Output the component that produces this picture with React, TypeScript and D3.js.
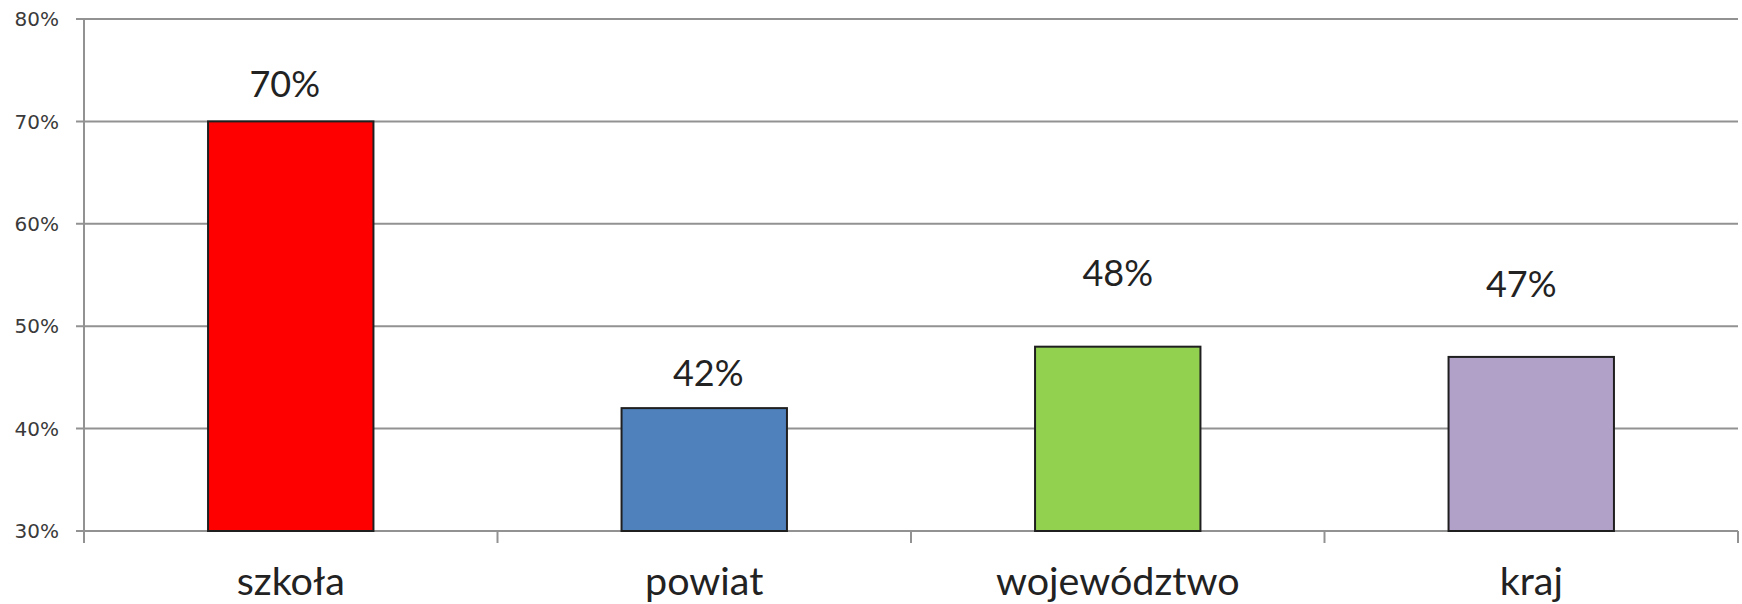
import React from "react";
import * as d3 from "d3";

const categories = ["szkoła", "powiat", "województwo", "kraj"];
const values = [70, 42, 48, 47];
const barColors = ["#FF0000", "#4F81BD", "#92D050", "#B1A0C7"];
const yTicks = [30, 40, 50, 60, 70, 80];
// label lift above bar top (px), as placed in the reference
const labelLift = [24, 22, 61, 60];
// small horizontal nudges of the value labels, as placed in the reference
const labelShift = [-6, 4, 0, -10];

const W = 1742;
const H = 604;
const M = { left: 84, right: 4, top: 19, bottom: 73 };

export default function App() {
  const x = d3
    .scaleBand<string>()
    .domain(categories)
    .range([M.left, W - M.right])
    .paddingInner(0.6)
    .paddingOuter(0.3);
  const y = d3.scaleLinear().domain([30, 80]).range([H - M.bottom, M.top]);
  const bounds = d3
    .scaleLinear()
    .domain([0, categories.length])
    .range([M.left, W - M.right]);
  const y0 = y(30);
  const gridColor = "#929292";

  return (
    <svg
      width={W}
      height={H}
      style={{ position: "absolute", left: 0, top: 0, background: "#fff" }}
    >
      {yTicks.map((t) => (
        <g key={t}>
          <line
            x1={M.left - 8}
            x2={W - M.right}
            y1={y(t)}
            y2={y(t)}
            stroke={gridColor}
            strokeWidth={2}
          />
          <text
            x={59}
            y={y(t)}
            dy="0.36em"
            textAnchor="end"
            fontFamily="DejaVu Sans, Verdana, sans-serif"
            fontSize={20}
            fill="#3a3a3a"
          >
            {t}%
          </text>
        </g>
      ))}
      <line x1={M.left} x2={M.left} y1={M.top} y2={y0 + 12} stroke={gridColor} strokeWidth={2} />
      {d3.range(categories.length + 1).map((i) => (
        <line
          key={i}
          x1={bounds(i)}
          x2={bounds(i)}
          y1={y0}
          y2={y0 + 12}
          stroke={gridColor}
          strokeWidth={2}
        />
      ))}
      {categories.map((c, i) => (
        <g key={c}>
          <rect
            x={x(c)}
            y={y(values[i])}
            width={x.bandwidth()}
            height={y0 - y(values[i])}
            fill={barColors[i]}
            stroke="#1f1f1f"
            strokeWidth={2}
          />
          <text
            x={(x(c) as number) + x.bandwidth() / 2 + labelShift[i]}
            y={y(values[i]) - labelLift[i]}
            textAnchor="middle"
            fontFamily="Lato, 'Open Sans', sans-serif"
            fontSize={36}
            fill="#222"
          >
            {values[i]}%
          </text>
          <text
            x={(x(c) as number) + x.bandwidth() / 2}
            y={595}
            textAnchor="middle"
            fontFamily="Lato, 'Open Sans', sans-serif"
            fontSize={39.5}
            fill="#222"
          >
            {c}
          </text>
        </g>
      ))}
    </svg>
  );
}
